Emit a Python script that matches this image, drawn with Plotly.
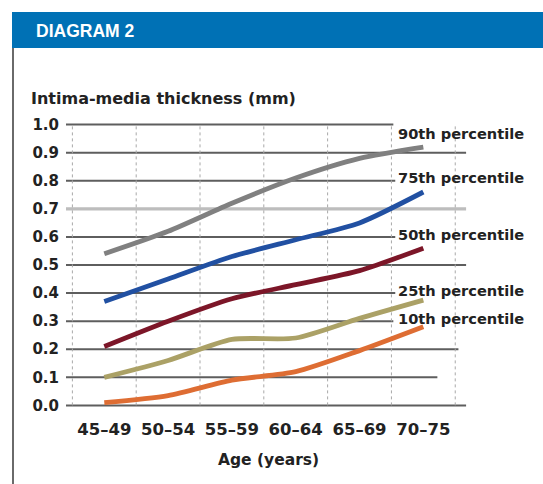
import plotly.graph_objects as go

# Age groups and intima-media thickness (mm) by percentile
age_groups = ["45–49", "50–54", "55–59", "60–64", "65–69", "70–75"]
p90 = [0.54, 0.62, 0.72, 0.81, 0.88, 0.92]
p75 = [0.37, 0.45, 0.53, 0.59, 0.65, 0.76]
p50 = [0.21, 0.30, 0.38, 0.43, 0.48, 0.56]
p25 = [0.10, 0.16, 0.235, 0.24, 0.31, 0.375]
p10 = [0.01, 0.035, 0.09, 0.12, 0.195, 0.28]
series_names = ["90th percentile", "75th percentile", "50th percentile",
                "25th percentile", "10th percentile"]
y_ticks = [0.0, 0.1, 0.2, 0.3, 0.4, 0.5, 0.6, 0.7, 0.8, 0.9, 1.0]

series = [p90, p75, p50, p25, p10]
colors = ["#808080", "#2150a2", "#7c1628", "#aba166", "#de6d33"]
label_y = [0.968, 0.81, 0.607, 0.41, 0.31]
# right-hand end of each horizontal rule (category-axis units)
grid_end = [5.67, 5.22, 5.55, 4.53, 4.56, 5.67, 4.56, 5.67, 4.56, 5.67, 4.53]

W, H = 543, 484
ML, MR, MT, MB = 66, 75, 119, 73
XR = [-0.6, 5.7]
YR = [-0.02, 1.02]
PW, PH = W - ML - MR, H - MT - MB

def px_x(px):
    return (px - ML) / PW

def px_y(py):
    return (H - MB - py) / PH

FONT = "DejaVu Sans"

fig = go.Figure()
for vals, name, col in zip(series, series_names, colors):
    fig.add_trace(go.Scatter(
        x=age_groups, y=vals, name=name, mode="lines",
        line=dict(color=col, width=4.8, shape="spline", smoothing=0.7),
        showlegend=False, hoverinfo="skip",
    ))

shapes = []
# horizontal rules
for t, xe in zip(y_ticks, grid_end):
    light = abs(t - 0.7) < 1e-9
    shapes.append(dict(
        type="line", xref="x", yref="y", x0=XR[0], x1=xe, y0=t, y1=t,
        line=dict(color="#bdbdbd" if light else "#5e5e5e", width=3.2 if light else 2),
        layer="below",
    ))
# dotted category boundaries
for i in range(len(age_groups) + 1):
    shapes.append(dict(
        type="line", xref="x", yref="y", x0=i - 0.5, x1=i - 0.5, y0=0, y1=1.0,
        line=dict(color="#a8a8a8", width=1, dash="dot"), layer="below",
    ))
# header band and left frame rule
shapes.append(dict(
    type="rect", xref="paper", yref="paper",
    x0=px_x(12), x1=px_x(543), y0=px_y(48), y1=px_y(12),
    fillcolor="#0071b5", line=dict(width=0),
))
shapes.append(dict(
    type="line", xref="paper", yref="paper",
    x0=px_x(13), x1=px_x(13), y0=px_y(48), y1=px_y(484),
    line=dict(color="#6a6a6a", width=2),
))

annotations = [
    dict(text="DIAGRAM 2", xref="paper", yref="paper", x=px_x(34), y=px_y(31),
         xanchor="left", yanchor="middle", showarrow=False,
         font=dict(family="Liberation Sans, Arial", size=17.5, color="white", weight="bold")),
    dict(text="Intima-media thickness (mm)", xref="paper", yref="paper",
         x=px_x(29), y=px_y(98), xanchor="left", yanchor="middle", showarrow=False,
         font=dict(family=FONT, size=16, color="#222222", weight="bold")),
    dict(text="Age (years)", xref="paper", yref="paper",
         x=px_x(268), y=px_y(460), xanchor="center", yanchor="middle", showarrow=False,
         font=dict(family=FONT, size=15.5, color="#222222", weight="bold")),
]
for name, ly in zip(series_names, label_y):
    annotations.append(dict(
        text=name, xref="paper", yref="y", x=px_x(396), y=ly,
        xanchor="left", yanchor="middle", showarrow=False,
        font=dict(family=FONT, size=14.6, color="#222222", weight="bold"),
    ))

fig.update_layout(
    width=W, height=H,
    margin=dict(l=ML, r=MR, t=MT, b=MB, pad=0),
    paper_bgcolor="white", plot_bgcolor="white",
    shapes=shapes, annotations=annotations,
    xaxis=dict(
        type="category", range=XR, showgrid=False, zeroline=False, showline=False,
        ticks="", tickvals=age_groups, ticktext=age_groups, automargin=False,
        tickfont=dict(family=FONT, size=16.5, color="#222222", weight="bold"),
        ticklabelstandoff=6,
    ),
    yaxis=dict(
        range=YR, showgrid=False, zeroline=False, showline=False, ticks="",
        tickvals=y_ticks, tickformat=".1f", automargin=False,
        tickfont=dict(family=FONT, size=15, color="#222222", weight="bold"),
        ticklabelstandoff=6,
    ),
)

fig.write_html("out.html")
